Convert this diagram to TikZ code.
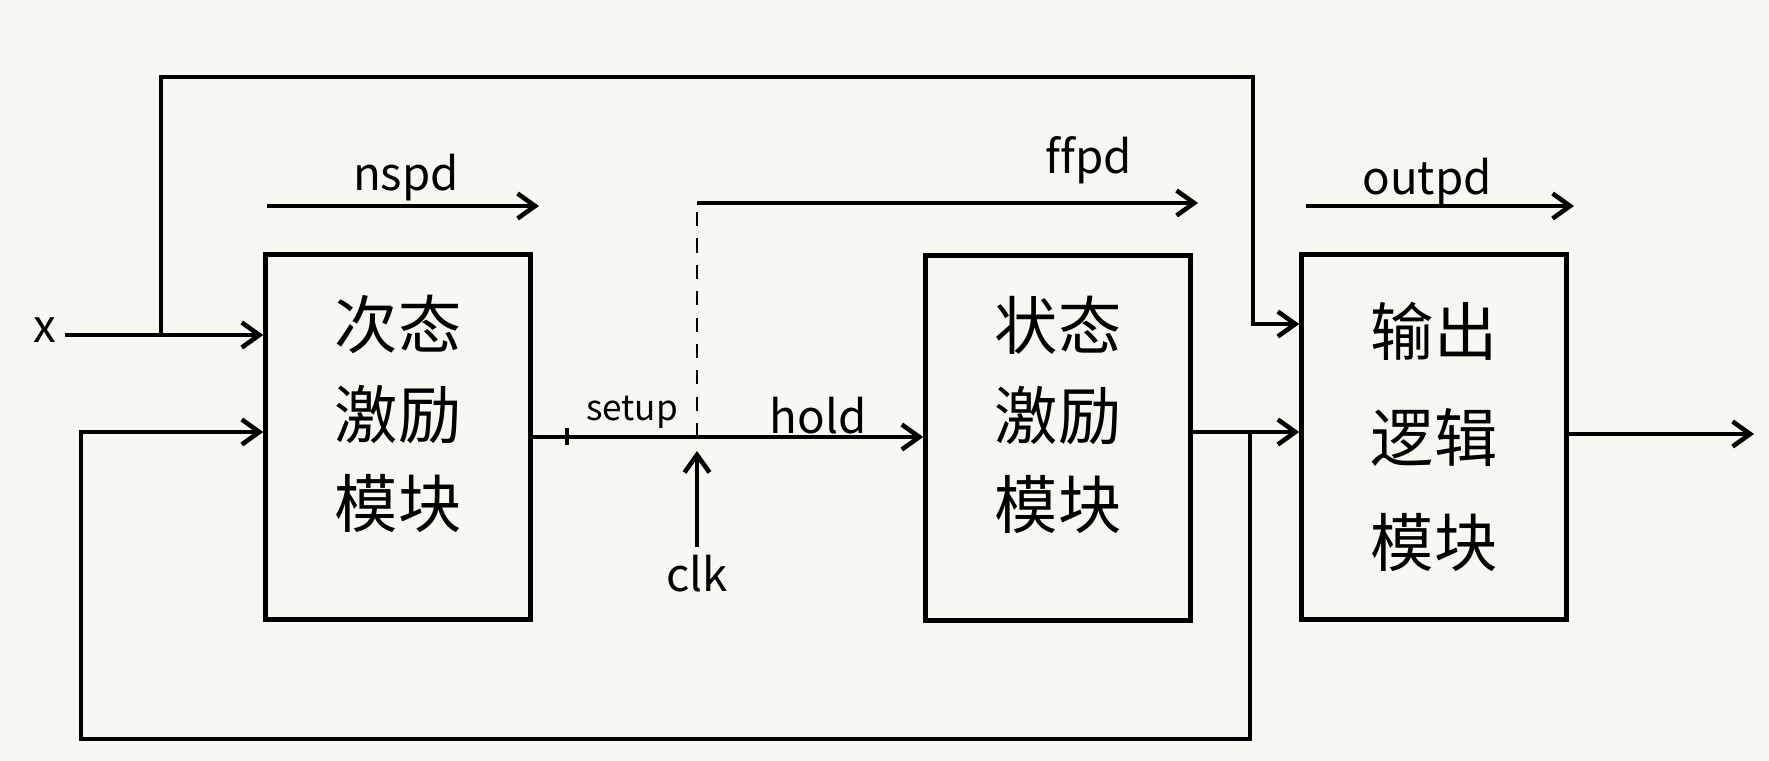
\documentclass[tikz,border=0pt]{standalone}
\usepackage{fontspec}
\newfontfamily\cjk[Ligatures=NoCommon]{Noto Sans CJK SC}
\usetikzlibrary{arrows.meta}
\definecolor{paper}{RGB}{248,247,242}

\begin{document}
\begin{tikzpicture}[x=0.02cm,y=-0.02cm,line width=2.6pt,
    sig/.style={-{Straight Barb[length=3.5mm,width=5mm]}},
    blk/.style={draw,minimum width=5.3cm,minimum height=7.3cm,align=center,
        font=\cjk\fontsize{36}{51}\selectfont},
    lbl/.style={font=\cjk\fontsize{26}{30}\selectfont},
    sml/.style={font=\cjk\fontsize{20}{24}\selectfont}]
    \fill[paper] (0,0) rectangle (1769,761);
    \useasboundingbox (0,0) rectangle (1769,761);

    % blocks
    \node[blk] (nsb) at (398,437) {次态\\激励\\模块\\[-22pt]};
    \node[blk] (ffb) at (1058,438) {状态\\激励\\模块\\[-22pt]};
    \node[blk,font=\cjk\fontsize{36}{60}\selectfont] (outb) at (1434,437) {输出\\逻辑\\模块};

    % inputs
    \node[lbl] (xin) at (45,330) {x};
    \coordinate (tl) at (161,77);
    \coordinate (tr) at (1253,77);
    \coordinate (trd) at (1253,324);
    \draw[sig] (xin.east |- 0,335) -- (nsb.west |- 0,335);
    \draw[sig] (tl |- 0,335) -- (tl) -- (tr) -- (trd) -- (outb.west |- trd);

    % feedback
    \coordinate (fbr) at (1250,432);
    \coordinate (fbd) at (1250,739);
    \coordinate (fbl) at (81,739);
    \draw[sig] (ffb.east |- fbr) -- (outb.west |- fbr);
    \draw[sig] (fbr) -- (fbd) -- (fbl) -- (fbl |- fbr) -- (nsb.west |- fbr);

    % setup / hold
    \coordinate (su) at (567,437);
    \coordinate (edge) at (697,437);
    \coordinate (fft) at (697,203);
    \draw[sig] (nsb.east) -- (nsb.east -| ffb.west);
    \draw (su) ++(0,-9) -- ++(0,17);
    \draw[line width=1.2pt,dash pattern=on 8pt off 7pt] (edge) -- (fft);
    \node[sml] (setup) at (632,412) {setup};
    \node[lbl] (hold) at (818,416) {hold};
    \node[lbl] (clk) at (697,574) {clk};
    \draw[sig] (clk.north) -- ([yshift=-0.28cm]edge);

    % delays
    \coordinate (ns0) at (267,206);
    \coordinate (ns1) at (539,206);
    \coordinate (ff1) at (1198,203);
    \coordinate (op0) at (1306,206);
    \coordinate (op1) at (1574,206);
    \draw[sig] (ns0) -- (ns1);
    \draw[sig] (fft) -- (ff1);
    \draw[sig] (op0) -- (op1);
    \node[lbl] (nspd) at (406,178) {nspd};
    \node[lbl] (ffpd) at (1089,160) {f\kern0ptfpd};
    \node[lbl] (outpd) at (1427,182) {outpd};

    % output
    \coordinate (yout) at (1754,434);
    \draw[sig] (outb.east |- yout) -- (yout);
\end{tikzpicture}
\end{document}
